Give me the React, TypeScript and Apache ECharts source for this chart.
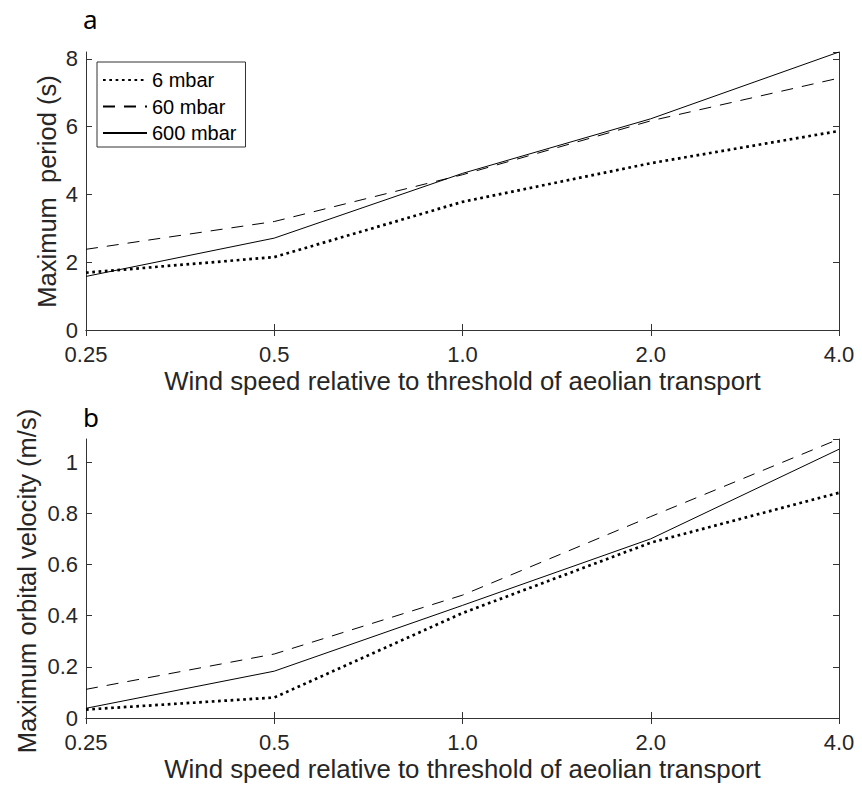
import React, { useEffect, useRef } from "react";
import * as echarts from "echarts";

const categories = ["0.25", "0.5", "1.0", "2.0", "4.0"];
const seriesNames = ["6 mbar", "60 mbar", "600 mbar"];

const periodA6 = [1.69, 2.15, 3.78, 4.92, 5.87];
const periodA60 = [2.38, 3.2, 4.58, 6.17, 7.43];
const periodA600 = [1.58, 2.71, 4.62, 6.23, 8.2];

const velB6 = [0.033, 0.08, 0.41, 0.685, 0.88];
const velB60 = [0.112, 0.25, 0.48, 0.787, 1.09];
const velB600 = [0.038, 0.183, 0.44, 0.7, 1.05];

const xTitle = "Wind speed relative to threshold of aeolian transport";
const yTitleA = "Maximum  period (s)";
const yTitleB = "Maximum orbital velocity (m/s)";

const FONT = "'Liberation Sans', Arial, Helvetica, sans-serif";
const AX = "#333333";
const TXT = "#262626";

const lineStyles = [
  { color: "#000", width: 2.7, type: [2.7, 3.6] as any, cap: "butt" },
  { color: "#000", width: 1, type: [12, 9] as any, cap: "butt" },
  { color: "#000", width: 1, type: "solid" },
];

export default function App() {
  const ref = useRef<HTMLDivElement>(null);
  useEffect(() => {
    document.body.style.margin = "0";
    const chart = echarts.init(ref.current!, undefined, { renderer: "svg" });

    const mkX = (gridIndex: number, bottom: boolean) => ({
      type: "category",
      gridIndex,
      data: categories,
      boundaryGap: false,
      position: bottom ? "bottom" : "top",
      axisLine: { show: true, lineStyle: { color: AX, width: 1 } },
      axisTick: { show: true, inside: true, length: 6, lineStyle: { color: AX } },
      axisLabel: bottom
        ? { show: true, interval: 0, margin: 13, fontSize: 22, color: TXT, fontFamily: FONT }
        : { show: false },
      splitLine: { show: false },
      name: bottom ? xTitle : "",
      nameLocation: "middle",
      nameGap: 38,
      nameTextStyle: { fontSize: 25.8, color: TXT, fontFamily: FONT },
    });

    const mkY = (gridIndex: number, left: boolean, max: number, interval: number) => ({
      type: "value",
      gridIndex,
      min: 0,
      max,
      interval,
      position: left ? "left" : "right",
      axisLine: { show: true, lineStyle: { color: AX, width: 1 } },
      axisTick: { show: true, inside: true, length: 6, lineStyle: { color: AX } },
      axisLabel: left
        ? { show: true, margin: 8, fontSize: 22, color: TXT, fontFamily: FONT, showMaxLabel: false }
        : { show: false },
      splitLine: { show: false },
    });

    const dataA = [periodA6, periodA60, periodA600];
    const dataB = [velB6, velB60, velB600];

    const series: any[] = [];
    dataA.forEach((d, i) =>
      series.push({
        type: "line",
        name: seriesNames[i],
        xAxisIndex: 0,
        yAxisIndex: 0,
        data: d,
        symbol: "none",
        lineStyle: lineStyles[i],
        itemStyle: { color: "#000" },
      })
    );
    dataB.forEach((d, i) =>
      series.push({
        type: "line",
        name: seriesNames[i],
        xAxisIndex: 2,
        yAxisIndex: 2,
        data: d,
        symbol: "none",
        lineStyle: lineStyles[i],
        itemStyle: { color: "#000" },
      })
    );

    const yTitleStyle = (text: string) => ({
      text,
      fontSize: 25.5,
      fontFamily: FONT,
      fill: TXT,
      align: "center",
      verticalAlign: "middle",
    });

    chart.setOption({
      animation: false,
      backgroundColor: "#fff",
      grid: [
        { left: 86, right: 23, top: 52, height: 278 },
        { left: 86, right: 23, top: 439, height: 279 },
      ],
      xAxis: [mkX(0, true), mkX(0, false), mkX(1, true), mkX(1, false)],
      yAxis: [
        mkY(0, true, 8.2, 2),
        mkY(0, false, 8.2, 2),
        mkY(1, true, 1.09, 0.2),
        mkY(1, false, 1.09, 0.2),
      ],
      legend: {
        data: seriesNames,
        orient: "vertical",
        left: 97,
        top: 62,
        itemWidth: 44,
        itemHeight: 14,
        itemGap: 6.5,
        padding: [8, 9, 4, 5],
        borderColor: AX,
        borderWidth: 1,
        backgroundColor: "#fff",
        selectedMode: false,
        itemStyle: { color: "transparent", borderColor: "transparent", borderWidth: 0 },
        textStyle: { fontSize: 20, color: "#000", fontFamily: FONT },
      },
      graphic: [
        {
          type: "text",
          x: 83,
          y: 19,
          style: { text: "a", fontSize: 26, fontFamily: "'Noto Sans', sans-serif", fill: "#000", verticalAlign: "middle" },
        },
        {
          type: "text",
          x: 83,
          y: 417,
          style: { text: "b", fontSize: 26, fontFamily: "'Noto Sans', sans-serif", fill: "#000", verticalAlign: "middle" },
        },
        {
          type: "text",
          x: 47,
          y: 191.5,
          rotation: Math.PI / 2,
          style: yTitleStyle(yTitleA),
        },
        {
          type: "text",
          x: 27,
          y: 581,
          rotation: Math.PI / 2,
          style: yTitleStyle(yTitleB),
        },
      ],
      series,
    });
    return () => chart.dispose();
  }, []);
  return <div ref={ref} style={{ width: 862, height: 785 }} />;
}
